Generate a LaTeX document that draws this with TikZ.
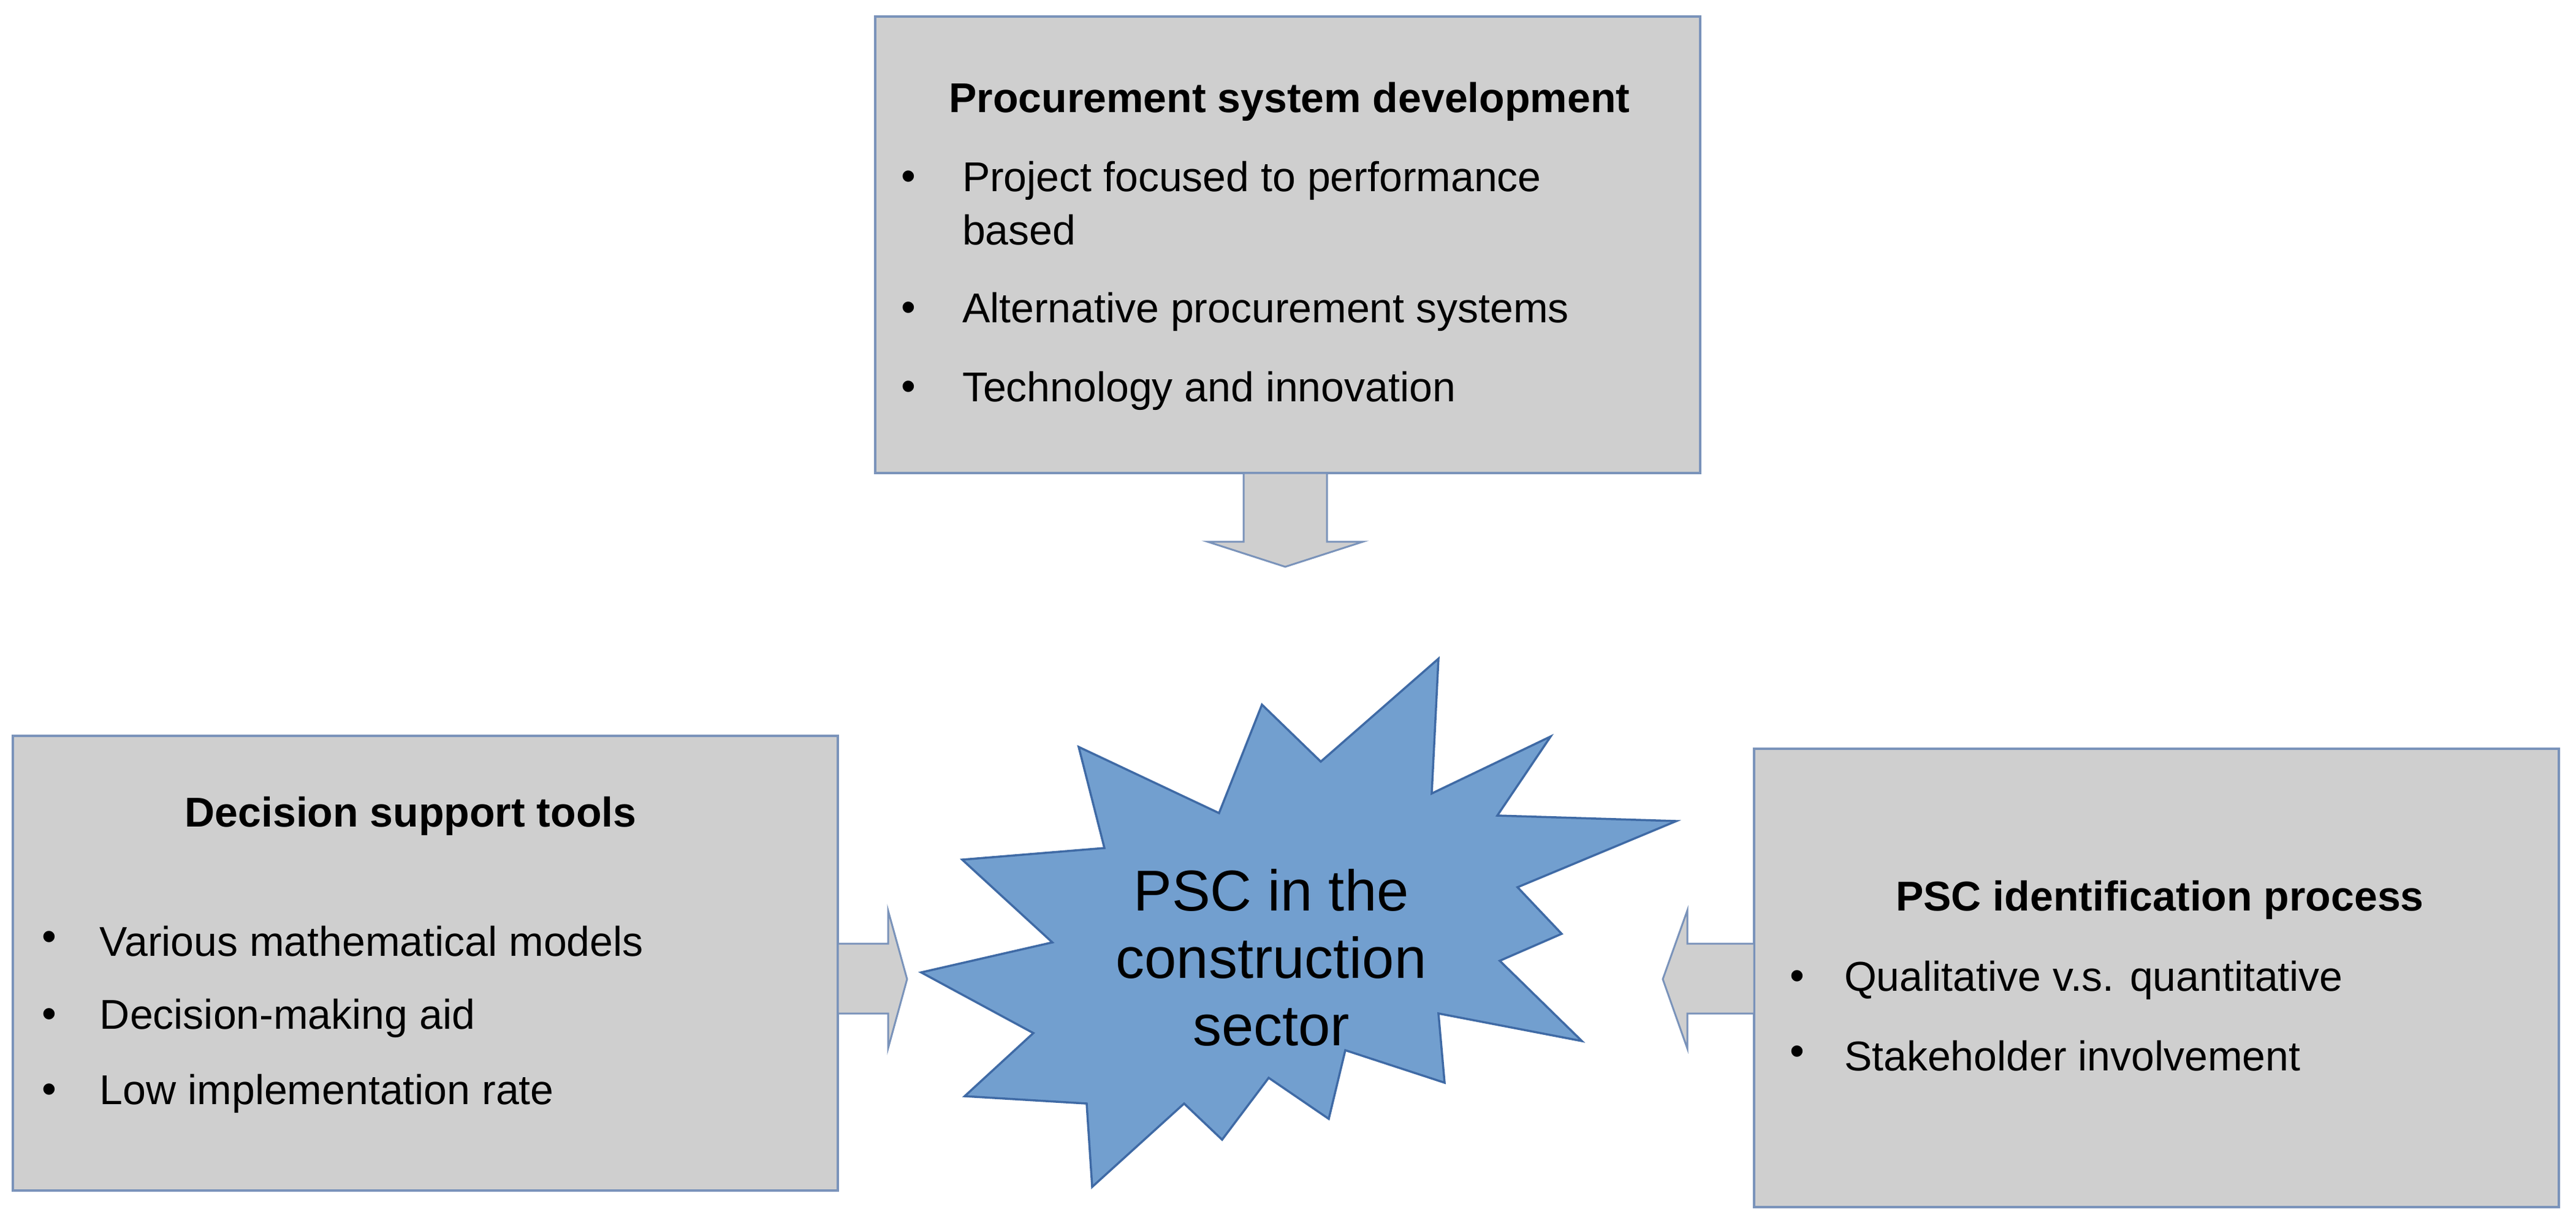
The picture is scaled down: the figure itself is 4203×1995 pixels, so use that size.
\documentclass[tikz,border=0pt]{standalone}
\usepackage{fontspec}
\setmainfont{Liberation Sans}
\definecolor{boxfill}{HTML}{CFCFCF}
\definecolor{boxline}{HTML}{7A93BA}
\definecolor{starfill}{HTML}{729FCF}
\definecolor{starline}{HTML}{3F6AA5}
\tikzset{
  box/.style={fill=boxfill,draw=boxline,line width=0.35pt},
  arr/.style={fill=boxfill,draw=boxline,line width=0.3pt},
  ttl/.style={font=\fontsize{6.8}{8}\selectfont\bfseries,inner sep=0pt},
  itm/.style={font=\fontsize{6.8}{8}\selectfont,anchor=west,inner sep=0pt},
  bul/.style={font=\fontsize{6.8}{8}\selectfont,inner sep=0pt},
}
\begin{document}
\begin{tikzpicture}[x=0.1pt,y=-0.1pt]
\useasboundingbox (0,0) rectangle (4203,1995);
% boxes
\draw[box] (1428,27) rectangle (2774,772);
\draw[box] (21,1201) rectangle (1367,1943);
\draw[box] (2862,1222) rectangle (4175,1970);
% arrows
\draw[arr] (2029,772) -- (2165,772) -- (2165,884) -- (2224,884) -- (2097,925) -- (1970,884) -- (2029,884) -- cycle;
\draw[arr] (1367,1540) -- (1449,1540) -- (1449,1486) -- (1480,1598) -- (1449,1711) -- (1449,1654) -- (1367,1654) -- cycle;
\draw[arr] (2862,1540) -- (2753,1540) -- (2753,1486) -- (2713,1598) -- (2753,1711) -- (2753,1654) -- (2862,1654) -- cycle;
% star
\draw[fill=starfill,draw=starline,line width=0.35pt]
(2347,1075) -- (2336,1295) -- (2530,1202) -- (2443,1331) -- (2735,1340) -- (2476,1448) -- (2548,1524) -- (2447,1568) -- (2581,1699) -- (2347,1654) -- (2357,1767) -- (2195,1714) -- (2168,1826) -- (2070,1759) -- (1994,1860) -- (1932,1801) -- (1782,1937) -- (1773,1801) -- (1574,1789) -- (1686,1686) -- (1503,1587) -- (1717,1538) -- (1570,1403) -- (1802,1384) -- (1760,1219) -- (1989,1327) -- (2059,1150) -- (2155,1243) -- cycle;
\node[font=\fontsize{9.4}{11}\selectfont,align=center,inner sep=0pt] (star) at (2074,1563) {PSC in the\\construction\\sector};
% top box text
\node[ttl] (t0) at (2104,166) {Procurement system development};
\foreach \y/\t in {295/Project focused to performance,509/Alternative procurement systems,638/Technology and innovation}{
  \node[bul] at (1482,\y) {•};
  \node[itm] at (1568,\y) {\t};}
\node[itm] (t1b) at (1568,375) {based};
% left box text
\node[ttl] (l0) at (670,1332) {Decision support tools};
\foreach \y/\t in {1536/Various mathematical models,1662/Decision-making aid,1785/Low implementation rate}{
  \node[bul] at (80,\y) {•};
  \node[itm] at (161,\y) {\t};}
% right box text
\node[ttl] (r0) at (3524,1469) {PSC identification process};
\foreach \y/\t in {1600/Qualitative v.s. quantitative,1723/Stakeholder involvement}{
  \node[bul] at (2932,\y) {•};
  \node[itm] at (3007,\y) {\t};}
\end{tikzpicture}
\end{document}
